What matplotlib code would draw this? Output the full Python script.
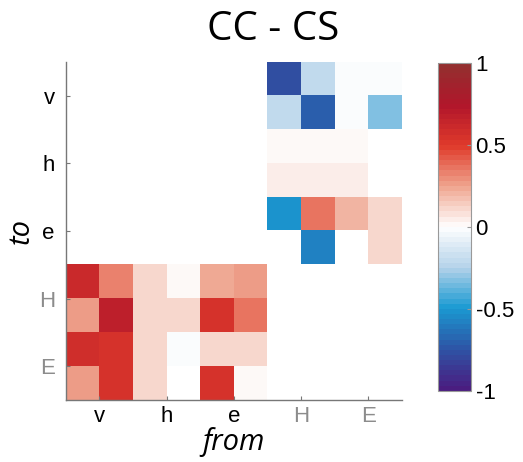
import numpy as np
import matplotlib
matplotlib.use('Agg')
from matplotlib import pyplot as plt
from matplotlib.colors import LinearSegmentedColormap

# labels for the 5 groups, each group covers 2 cells
labels = ['v', 'h', 'e', 'H', 'E']
label_colors = ['black', 'black', 'black', '#8c8c8c', '#8c8c8c']
nan = np.nan

# rows = "to" (top to bottom), cols = "from" (left to right)
row0 = [nan, nan, nan, nan, nan, nan, -0.78, -0.20, -0.02, -0.02]
row1 = [nan, nan, nan, nan, nan, nan, -0.20, -0.70, -0.02, -0.33]
row2 = [nan, nan, nan, nan, nan, nan, 0.02, 0.02, 0.02, nan]
row3 = [nan, nan, nan, nan, nan, nan, 0.05, 0.05, 0.05, nan]
row4 = [nan, nan, nan, nan, nan, nan, -0.52, 0.35, 0.20, 0.12]
row5 = [nan, nan, nan, nan, nan, nan, nan, -0.58, nan, 0.12]
row6 = [0.60, 0.33, 0.10, 0.01, 0.22, 0.25, nan, nan, nan, nan]
row7 = [0.25, 0.66, 0.10, 0.10, 0.56, 0.35, nan, nan, nan, nan]
row8 = [0.57, 0.55, 0.10, -0.02, 0.10, 0.10, nan, nan, nan, nan]
row9 = [0.25, 0.55, 0.10, nan, 0.56, 0.02, nan, nan, nan, nan]

data = np.array([row0, row1, row2, row3, row4, row5, row6, row7, row8, row9])

cmap = LinearSegmentedColormap.from_list('bwr_custom', [
    (0.000, '#4a1d80'),
    (0.125, '#2d55a6'),
    (0.250, '#1a9ad2'),
    (0.375, '#b5d3ea'),
    (0.500, '#ffffff'),
    (0.625, '#efa58f'),
    (0.750, '#e03b2b'),
    (0.875, '#b1162b'),
    (1.000, '#932f2f'),
], N=64)
cmap.set_bad('white')

plt.rcParams['font.family'] = ['Liberation Sans', 'DejaVu Sans']

fig = plt.figure(figsize=(5.23, 4.62), dpi=100)
ax = fig.add_axes([0.126, 0.134, 0.642, 0.732])
im = ax.imshow(np.ma.masked_invalid(data), cmap=cmap, vmin=-1, vmax=1,
               extent=[0, 10, 10, 0], aspect='auto', interpolation='nearest')

ax.set_xlim(0, 10)
ax.set_ylim(10, 0)
ax.set_xticks([1, 3, 5, 7, 9])
ax.set_yticks([1, 3, 5, 7, 9])
ax.set_xticklabels(labels, fontsize=16)
ax.set_yticklabels(labels, fontsize=16)
for t, c in zip(ax.get_xticklabels(), label_colors):
    t.set_color(c)
for t, c in zip(ax.get_yticklabels(), label_colors):
    t.set_color(c)
ax.tick_params(direction='in', length=3, color='#777777', pad=8)
ax.tick_params(axis='x', pad=4)
for s in ['top', 'right']:
    ax.spines[s].set_visible(False)
for s in ['left', 'bottom']:
    ax.spines[s].set_color('#777777')
    ax.spines[s].set_linewidth(1.0)

ax.set_xlabel('from', fontsize=21, style='italic', family='Open Sans', labelpad=0)
ax.set_ylabel('to', fontsize=21, style='italic', family='Open Sans', labelpad=2)

cax = fig.add_axes([0.837, 0.154, 0.063, 0.710])
cb = fig.colorbar(im, cax=cax, ticks=[-1, -0.5, 0, 0.5, 1])
cb.ax.set_yticklabels(['-1', '-0.5', '0', '0.5', '1'], fontsize=16)
cb.ax.tick_params(direction='in', length=3, color='#999999')
cb.outline.set_edgecolor('#999999')

fig.text(0.522, 0.935, 'CC - CS', ha='center', va='center', fontsize=29,
         family='Open Sans')

plt.savefig('out.png', dpi=100)
